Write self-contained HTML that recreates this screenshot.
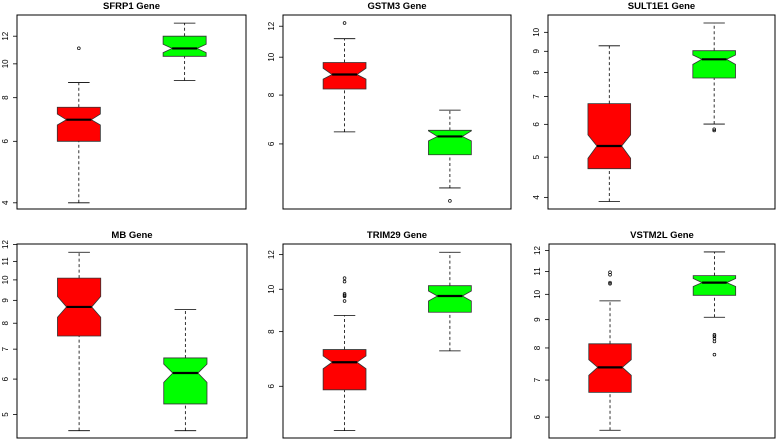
<!DOCTYPE html>
<html><head><meta charset="utf-8">
<style>
html,body{margin:0;padding:0;background:#fff;}
svg{display:block;font-family:"Liberation Sans",Arial,sans-serif;}
</style></head>
<body>
<svg id="chart" width="777" height="439" viewBox="0 0 777 439" xmlns="http://www.w3.org/2000/svg"></svg>
<script>
// ---- data (top-level arrays) ----
const genes = ["SFRP1","GSTM3","SULT1E1","MB","TRIM29","VSTM2L"];
const groups = ["normal","tumor"];
const groupColors = ["#ff0000","#00ff00"];
// y-domain at plot box bottom / top (log scale)
const yMin = [3.84, 4.09, 3.75, 4.43, 4.57, 5.50];
const yMax = [13.8, 12.82, 11.01, 12.03, 12.69, 12.33];
const tickLabels = [
  [4,6,8,10,12],
  [6,8,10,12],
  [4,5,6,7,8,9,10],
  [5,6,7,8,9,10,11,12],
  [6,8,10,12],
  [6,7,8,9,10,11,12]
];
// [whiskerLow, q1, notchLow, median, notchHigh, q3, whiskerHigh]
const redStats = [
  [4.0, 6.0, 6.68, 6.92, 7.18, 7.51, 8.84],
  [6.44, 8.29, 8.79, 9.03, 9.37, 9.69, 11.15],
  [3.91, 4.69, 4.97, 5.32, 5.66, 6.73, 9.28],
  [4.60, 7.49, 8.25, 8.70, 9.18, 10.09, 11.53],
  [4.75, 5.89, 6.58, 6.81, 7.04, 7.28, 8.71],
  [5.68, 6.65, 7.14, 7.38, 7.62, 8.14, 9.73]
];
const greenStats = [
  [8.96, 10.51, 10.77, 11.07, 11.38, 12.0, 13.08],
  [4.63, 5.63, 6.11, 6.27, 6.48, 6.50, 7.32],
  [6.01, 7.76, 8.37, 8.61, 8.82, 9.03, 10.53],
  [4.60, 5.28, 5.90, 6.19, 6.48, 6.69, 8.58],
  [7.23, 8.86, 9.40, 9.65, 9.91, 10.19, 12.15],
  [9.09, 9.96, 10.33, 10.50, 10.68, 10.81, 11.93]
];
const redOutliers = [
  [11.08],
  [12.23],
  [],
  [],
  [10.60, 10.41, 9.76, 9.69, 9.64, 9.40],
  [10.96, 10.85, 10.50, 10.45]
];
const greenOutliers = [
  [],
  [4.29],
  [5.84, 5.80],
  [],
  [],
  [8.45, 8.40, 8.32, 8.22, 7.78]
];

// ---- layout ----
const panels = [
  {x0:17, x1:246, y0:15, y1:209},
  {x0:283, x1:511, y0:15, y1:209},
  {x0:548, x1:775, y0:15, y1:209},
  {x0:17, x1:247, y0:244, y1:438},
  {x0:283, x1:511, y0:244, y1:438},
  {x0:549, x1:775, y0:244, y1:438}
];
const NS = "http://www.w3.org/2000/svg";
const svg = document.getElementById("chart");
function mk(tag, attrs, parent){
  const e = document.createElementNS(NS, tag);
  for (const k in attrs) e.setAttribute(k, attrs[k]);
  (parent||svg).appendChild(e);
  return e;
}

genes.forEach((gene, i) => {
  const p = panels[i];
  const g = mk("g", {});
  
  
  const lmin = Math.log10(yMin[i]), lmax = Math.log10(yMax[i]);
  const yScale = v => p.y1 - (Math.log10(v) - lmin) / (lmax - lmin) * (p.y1 - p.y0);
  const w = p.x1 - p.x0;
  const xScale = k => p.x0 + w * (k === 0 ? 0.27 : 0.732);

  // title
  const t = mk("text", {x:(p.x0+p.x1)/2, y:p.y0 - 6, "text-anchor":"middle", "font-size":"9.5", "font-weight":"bold", fill:"#000"}, g);
  t.textContent = gene + " Gene";
  
  

  // y axis ticks
  const ax = mk("g", {}, g);
  
  
  tickLabels[i].forEach(v => {
    const y = yScale(v);
    mk("line", {x1:p.x0-4, x2:p.x0, y1:y, y2:y, stroke:"#000", "stroke-width":"0.8"}, ax);
    const lx = p.x0 - 9;
    const tl = mk("text", {x:lx, y:y, "font-size":"8", "text-anchor":"middle", transform:`rotate(-90 ${lx} ${y})`, fill:"#000"}, ax);
    tl.textContent = v;
    
    
  });

  // boxes
  [redStats[i], greenStats[i]].forEach((s, k) => {
    const cx = xScale(k);
    const hw = w * 0.094, nw = hw * 0.58, cw = hw * 0.5;
    const bg = mk("g", {}, g);
    
    
    const [wl, q1, nl, md, nh, q3, wh] = s.map(yScale);
    // whiskers
    mk("line", {x1:cx, x2:cx, y1:wl, y2:q1, stroke:"#000", "stroke-width":"0.8", "stroke-dasharray":"3,2.5"}, bg);
    mk("line", {x1:cx, x2:cx, y1:q3, y2:wh, stroke:"#000", "stroke-width":"0.8", "stroke-dasharray":"3,2.5"}, bg);
    mk("line", {x1:cx-cw, x2:cx+cw, y1:wl, y2:wl, stroke:"#000", "stroke-width":"0.8"}, bg);
    mk("line", {x1:cx-cw, x2:cx+cw, y1:wh, y2:wh, stroke:"#000", "stroke-width":"0.8"}, bg);
    // notched box
    const pts = [
      [cx-hw, q1],[cx-hw, nl],[cx-nw, md],[cx-hw, nh],[cx-hw, q3],
      [cx+hw, q3],[cx+hw, nh],[cx+nw, md],[cx+hw, nl],[cx+hw, q1]
    ].map(a => a.join(",")).join(" ");
    mk("polygon", {points:pts, fill:groupColors[k], stroke:"#333", "stroke-width":"0.8"}, bg);
    mk("line", {x1:cx-nw, x2:cx+nw, y1:md, y2:md, stroke:"#000", "stroke-width":"2.2"}, bg);
    // outliers
    (k === 0 ? redOutliers[i] : greenOutliers[i]).forEach(v => {
      const c = mk("circle", {cx:cx, cy:yScale(v), r:1.4, fill:"none", stroke:"#000", "stroke-width":"0.7"}, bg);
      
      
    });
  });

  // frame
  const fr = mk("rect", {x:p.x0, y:p.y0, width:w, height:p.y1-p.y0, fill:"none", stroke:"#000", "stroke-width":"1"}, g);
  
  
});
</script>
</body></html>
